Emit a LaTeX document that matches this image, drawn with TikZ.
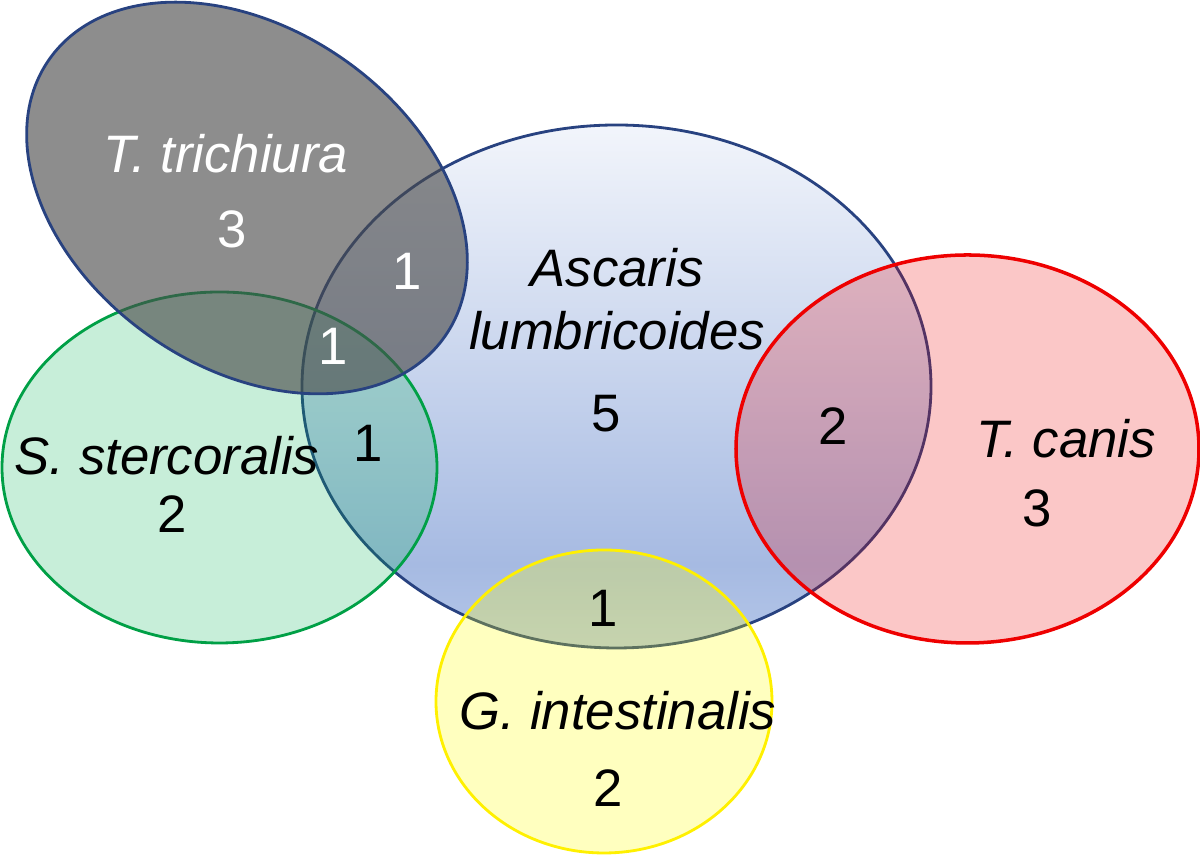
\documentclass[tikz,border=0pt]{standalone}
\usepackage{fontspec}
\setmainfont{Liberation Sans}
\usepackage{tikz}
\usetikzlibrary{shapes.geometric}
\usepackage{xcolor}
\definecolor{ascline}{RGB}{40,66,128}
\definecolor{asctop}{RGB}{242,245,251}
\definecolor{ascmid}{RGB}{166,186,226}
\definecolor{ascbot}{RGB}{180,198,232}
\definecolor{trichfill}{RGB}{74,74,74}
\definecolor{stercfill}{RGB}{0,176,80}
\definecolor{stercline}{RGB}{0,160,70}
\definecolor{canisfill}{RGB}{236,0,0}
\definecolor{canisline}{RGB}{238,0,0}
\definecolor{giardfill}{RGB}{255,255,0}
\definecolor{giardline}{RGB}{255,240,0}
\pgfdeclareverticalshading{ascarisshade}{100bp}{color(0bp)=(ascbot); color(25bp)=(ascbot); color(33bp)=(ascmid); color(75bp)=(asctop); color(100bp)=(asctop)}
\tikzstyle{set} = [ellipse, draw, inner sep=0pt, line width=0.8pt]
\tikzstyle{species} = [font=\fontsize{15}{18}\selectfont\itshape, align=center, anchor=base]
\tikzstyle{count} = [font=\fontsize{15}{18}\selectfont, anchor=base]

\begin{document}
\begin{tikzpicture}
    \useasboundingbox (0,0) rectangle (12,8.55);
    % the five sets
    \node[set, draw=ascline, shading=ascarisshade, minimum width=6.29cm, minimum height=5.23cm] (ascaris) at (6.165,4.685) {};
    \node[set, draw=stercline, fill=stercfill, fill opacity=0.22, minimum width=4.35cm, minimum height=3.51cm] (sterc) at (2.195,3.875) {};
    \node[set, draw=ascline, fill=trichfill, fill opacity=0.63, minimum width=4.83cm, minimum height=3.38cm, rotate=-35] (trich) at (2.47,6.57) {};
    \node[set, draw=canisline, line width=1pt, fill=canisfill, fill opacity=0.22, minimum width=4.63cm, minimum height=3.88cm] (canis) at (9.675,4.06) {};
    \node[set, draw=giardline, fill=giardfill, fill opacity=0.25, minimum width=3.36cm, minimum height=3.03cm] (giard) at (6.04,1.535) {};
    % names
    \node[species, text=white] (trichname) at (2.26,6.82) {T. trichiura};
    \node[species] (ascname) at (6.17,5.05) {Ascaris\\lumbricoides};
    \node[species] (stercname) at (1.67,3.80) {S. stercoralis};
    \node[species] (canisname) at (10.66,3.97) {T. canis};
    \node[species] (giardname) at (6.18,1.25) {G. intestinalis};
    % counts
    \node[count, text=white] (trichnum) at (2.32,6.07) {3};
    \node[count, text=white] (trichasc) at (4.07,5.65) {1};
    \node[count, text=white] (trichstercasc) at (3.33,4.90) {1};
    \node[count] (stercasc) at (3.68,3.93) {1};
    \node[count] (stercnum) at (1.72,3.22) {2};
    \node[count] (ascnum) at (6.06,4.23) {5};
    \node[count] (canisasc) at (8.33,4.10) {2};
    \node[count] (canisnum) at (10.37,3.28) {3};
    \node[count] (giardasc) at (6.03,2.28) {1};
    \node[count] (giardnum) at (6.08,0.48) {2};
\end{tikzpicture}
\end{document}
